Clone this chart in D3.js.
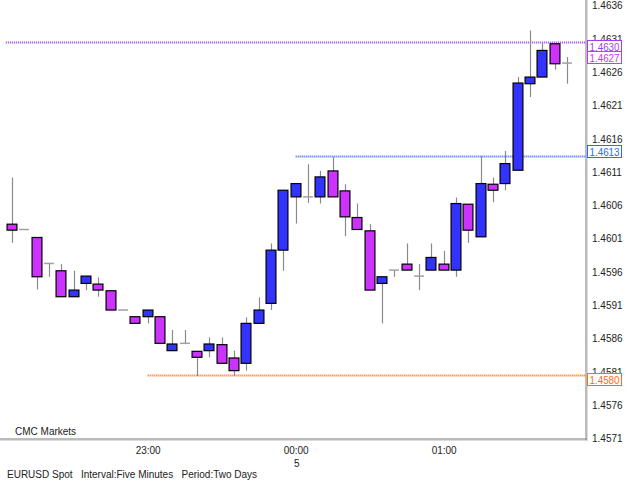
<!DOCTYPE html>
<html>
<head>
<meta charset="utf-8">
<script src="https://cdn.jsdelivr.net/npm/d3@7"></script>
<style>
  body { margin: 0; background: #ffffff; }
  svg { display: block; }
  text { font-family: "Liberation Sans", Arial, sans-serif; }
</style>
</head>
<body>
<svg id="chart"></svg>
<script>
// five minute bars, EURUSD
let times = ["22:05","22:10","22:15","22:20","22:25","22:30","22:35","22:40","22:45","22:50","22:55",
    "23:00","23:05","23:10","23:15","23:20","23:25","23:30","23:35","23:40","23:45","23:50","23:55",
    "00:00","00:05","00:10","00:15","00:20","00:25","00:30","00:35","00:40","00:45","00:50","00:55",
    "01:00","01:05","01:10","01:15","01:20","01:25","01:30","01:35","01:40","01:45","01:50"]

let open = [1.46027,1.46019,1.46007,1.45968,1.45957,1.45918,1.45938,1.45937,1.45927,1.45898,1.45888,
    1.45888,1.45888,1.45837,1.45848,1.45836,1.45837,1.45846,1.45826,1.45818,1.45878,1.45908,1.45988,
    1.46068,1.46068,1.46068,1.46107,1.46077,1.46037,1.46017,1.45938,1.45958,1.45967,1.45949,1.45958,
    1.45967,1.45958,1.46057,1.46008,1.46087,1.46088,1.46108,1.46238,1.46248,1.46298,1.46269]

let high = [1.46097,1.46019,1.46007,1.45968,1.45967,1.45957,1.45949,1.45947,1.45927,1.45898,1.45888,
    1.45898,1.45888,1.45868,1.45868,1.45836,1.45857,1.45857,1.45837,1.45887,1.45917,1.45998,1.46078,
    1.46088,1.46117,1.46107,1.46128,1.46087,1.46058,1.46027,1.45948,1.45958,1.45998,1.45967,1.45998,
    1.45987,1.46067,1.46057,1.46129,1.46097,1.46137,1.46248,1.46318,1.46299,1.46298,1.46278]

let low = [1.45999,1.46019,1.45929,1.45948,1.45918,1.45918,1.45928,1.45918,1.45898,1.45898,1.45878,
    1.45878,1.45848,1.45837,1.45848,1.45799,1.45827,1.45818,1.45799,1.45807,1.45878,1.45898,1.45957,
    1.46028,1.46059,1.46058,1.46068,1.46009,1.46019,1.45928,1.45878,1.45948,1.45958,1.45928,1.45958,
    1.45958,1.45948,1.45999,1.46008,1.46060,1.46078,1.46108,1.46218,1.46248,1.46259,1.46238]

let close = [1.46018,1.46019,1.45948,1.45968,1.45918,1.45928,1.45949,1.45928,1.45898,1.45898,1.45878,
    1.45898,1.45848,1.45847,1.45848,1.45827,1.45847,1.45818,1.45807,1.45878,1.45898,1.45988,1.46078,
    1.46088,1.46068,1.46098,1.46068,1.46038,1.46019,1.45928,1.45948,1.45958,1.45958,1.45949,1.45977,
    1.45958,1.46058,1.46018,1.46088,1.46078,1.46118,1.46239,1.46248,1.46288,1.46268,1.46269]

let priceTicks = [1.4571,1.4576,1.4581,1.4586,1.4591,1.4596,1.4601,1.4606,1.4611,1.4616,1.4621,1.4626,1.4631,1.4636]
let timeTicks = ["23:00","00:00","01:00"]
let dayChange = {"00:00": "5"}

// horizontal price lines: value, start time (null = no line), colour
let levelValues = [1.4630, 1.4627, 1.4613, 1.4580]
let levelStarts = ["22:05", null, "00:00", "23:00"]
let levelColours = ["#a23cf0", "#cc33ff", "#3366ff", "#ff6a10"]
let levelLines = [true, false, true, true]

let bars = times.map((t, i) => ({t: t, o: open[i], h: high[i], l: low[i], c: close[i]}))

let svgWidth = 625
let svgHeight = 488
let axisX = 586
let axisY = 439

let svg = d3.select('#chart')
    .attr('width', svgWidth)
    .attr('height', svgHeight)

svg.append('rect')
    .attr('width', svgWidth)
    .attr('height', svgHeight)
    .attr('fill', '#ffffff')

// SCALES
let x = d3.scalePoint()
    .domain(times)
    .range([12, 567])
let y = d3.scaleLinear()
    .domain([1.4571, 1.4636])
    .range([435.2, 2.5])

let bodyW = x.step() * 0.8

// LEVEL LINES
let levelG = svg.append('g')
levelValues.forEach(function(v, i) {
    if (!levelLines[i]) return
    let x0 = levelStarts[i] ? x(levelStarts[i]) : 0
    if (levelStarts[i] == times[0]) x0 = x0 - x.step() / 2
    levelG.append('line')
        .attr('x1', x0)
        .attr('x2', axisX)
        .attr('y1', Math.round(y(v)) + 0.5)
        .attr('y2', Math.round(y(v)) + 0.5)
        .attr('stroke', levelColours[i])
        .attr('stroke-width', 2)
        .attr('stroke-dasharray', '1,1')
})

// CANDLES
let candle = svg.append('g')
    .selectAll('g')
    .data(bars)
    .join('g')
    .attr('transform', d => `translate(${Math.round(x(d.t))}, 0)`)

candle.append('line')
    .attr('x1', 0.5)
    .attr('x2', 0.5)
    .attr('y1', d => y(d.h))
    .attr('y2', d => y(d.l))
    .attr('stroke', '#8a8a8a')
    .attr('stroke-width', 1.2)

candle.filter(d => Math.abs(d.o - d.c) < 0.00002)
    .append('line')
    .attr('x1', -bodyW / 2)
    .attr('x2', bodyW / 2)
    .attr('y1', d => y(d.c))
    .attr('y2', d => y(d.c))
    .attr('stroke', '#a0a0a0')
    .attr('stroke-width', 1.5)

candle.filter(d => Math.abs(d.o - d.c) >= 0.00002)
    .append('rect')
    .attr('x', -bodyW / 2)
    .attr('y', d => y(Math.max(d.o, d.c)))
    .attr('width', bodyW)
    .attr('height', d => Math.abs(y(d.o) - y(d.c)))
    .attr('fill', d => d.c > d.o ? '#3333ff' : '#cc33ff')
    .attr('stroke', '#000000')
    .attr('stroke-width', 1.2)

// FRAME
svg.append('line')
    .attr('x1', axisX).attr('x2', axisX)
    .attr('y1', 0).attr('y2', axisY + 1)
    .attr('stroke', '#7a7a7a').attr('stroke-width', 1)
svg.append('line')
    .attr('x1', axisX + 1).attr('x2', axisX + 1)
    .attr('y1', 0).attr('y2', axisY + 2)
    .attr('stroke', '#b8b8b8').attr('stroke-width', 1)
svg.append('line')
    .attr('x1', 0).attr('x2', axisX + 1)
    .attr('y1', axisY).attr('y2', axisY)
    .attr('stroke', '#7a7a7a').attr('stroke-width', 1)
svg.append('line')
    .attr('x1', 0).attr('x2', axisX + 1)
    .attr('y1', axisY + 1).attr('y2', axisY + 1)
    .attr('stroke', '#b8b8b8').attr('stroke-width', 1)

// Y AXIS
let yAxis = svg.append('g')
    .attr('transform', `translate(${axisX}, 0)`)
    .call(d3.axisRight(y).tickValues(priceTicks).tickSize(0).tickPadding(6).tickFormat(d3.format('.4f')))
yAxis.select('.domain').remove()
yAxis.selectAll('text')
    .attr('dy', 6.4)
    .attr('fill', '#222222')
    .attr('font-size', 10)
    .attr('font-family', '"Liberation Sans", Arial, sans-serif')

// LEVEL LABELS (put on the side away from the nearest tick label)
let labelH = 12
levelValues.forEach(function(v, i) {
    let ly = y(v)
    let below = ly - 2
    let above = ly - 11
    let dist = c => d3.min(priceTicks, t => Math.abs(y(t) + 2.6 - c))
    let top = dist(below + labelH / 2) >= dist(above + labelH / 2) ? below : above
    let g = svg.append('g')
    g.append('rect')
        .attr('x', axisX + 1.5)
        .attr('y', Math.round(top) + 0.5)
        .attr('width', 34)
        .attr('height', labelH)
        .attr('fill', '#ffffff')
        .attr('stroke', levelColours[i])
        .attr('stroke-width', 1)
    g.append('text')
        .attr('x', axisX + 3.5)
        .attr('y', Math.round(top) + labelH - 1.5)
        .attr('fill', levelColours[i])
        .attr('font-size', 10)
        .attr('textLength', 30)
        .attr('lengthAdjust', 'spacingAndGlyphs')
        .text(d3.format('.4f')(v))
})

// X AXIS
let xAxis = svg.append('g')
    .attr('transform', `translate(0, ${axisY})`)
    .call(d3.axisBottom(x).tickValues(timeTicks).tickSize(0).tickPadding(5))
xAxis.select('.domain').remove()
xAxis.selectAll('text')
    .attr('fill', '#222222')
    .attr('font-size', 10)
    .attr('font-family', '"Liberation Sans", Arial, sans-serif')
    .attr('dy', '0.95em')

svg.append('g')
    .selectAll('text')
    .data(Object.keys(dayChange))
    .join('text')
    .attr('x', d => x(d) + 1)
    .attr('y', 466.5)
    .attr('text-anchor', 'middle')
    .attr('fill', '#222222')
    .attr('font-size', 10)
    .text(d => dayChange[d])

// CAPTIONS
svg.append('text')
    .attr('x', 15)
    .attr('y', 435)
    .attr('fill', '#222222')
    .attr('font-size', 10)
    .text('CMC Markets')

svg.append('text')
    .attr('x', 7)
    .attr('y', 478)
    .attr('fill', '#222222')
    .attr('font-size', 10)
    .style('white-space', 'pre')
    .text('EURUSD Spot   Interval:Five Minutes   Period:Two Days')
</script>
</body>
</html>
